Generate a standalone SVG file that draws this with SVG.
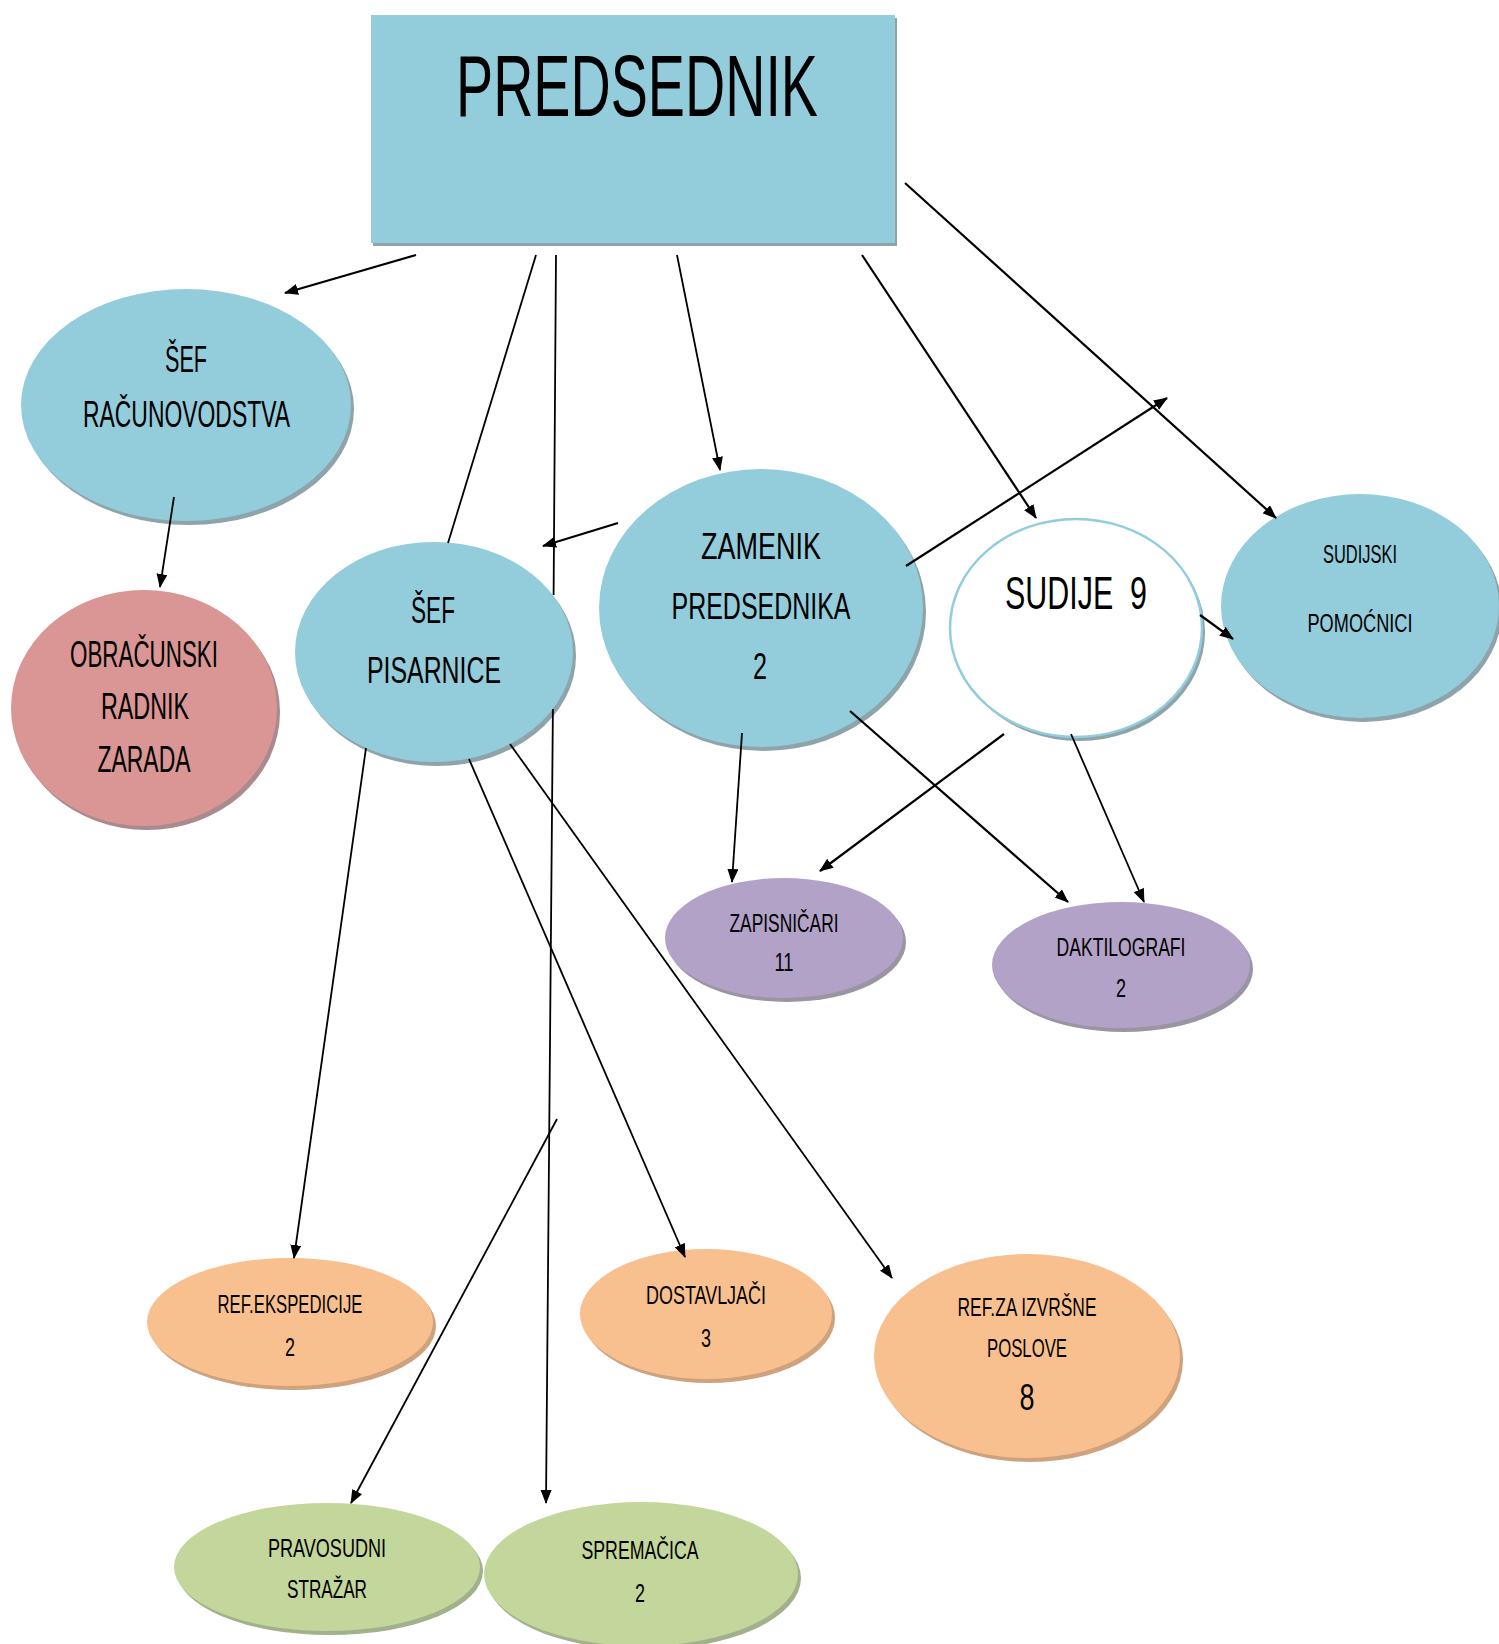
<svg xmlns="http://www.w3.org/2000/svg" width="1499" height="1644" viewBox="0 0 1499 1644">
<style>
text{font-family:"Liberation Sans",Arial,sans-serif;fill:#000;text-anchor:middle}
.big{font-size:37px}
.sm{font-size:25px}
.blue{fill:#93CDDC}
.pink{fill:#D99694}
.purp{fill:#B2A2C7}
.orng{fill:#F9C08F}
.grn{fill:#C3D69B}
.sh{fill:#8EA3AA}
.shp{fill:#A98A8E}
.shv{fill:#9A95A3}
.sho{fill:#CFA27E}
.shg{fill:#A3B08C}
.ln{fill:none;stroke:#000;stroke-width:2.2;marker-end:url(#ah)}
.lt{fill:none;stroke:#000;stroke-width:1.8;marker-end:url(#ah)}
</style>
<defs>
<marker id="ah" markerUnits="userSpaceOnUse" markerWidth="14" markerHeight="12" refX="13" refY="5.5" orient="auto">
<path d="M0,0 L14,5.5 L0,11 z" fill="#000"/>
</marker>
</defs>
<rect width="1499" height="1644" fill="#fff"/>

<g id="predsednik">
<rect x="373" y="18" width="524" height="228" class="sh"/>
<rect x="371" y="15" width="524" height="228" class="blue"/>
<text x="637" y="116" style="font-size:87px" textLength="362" lengthAdjust="spacingAndGlyphs">PREDSEDNIK</text>
</g>

<g id="sef-racunovodstva">
<ellipse cx="189" cy="409" rx="165" ry="116" class="sh"/>
<ellipse cx="186" cy="405" rx="165" ry="116" class="blue"/>
<text class="big" x="186" y="372" textLength="42" lengthAdjust="spacingAndGlyphs">ŠEF</text>
<text class="big" x="186.5" y="427" textLength="207" lengthAdjust="spacingAndGlyphs">RAČUNOVODSTVA</text>
</g>

<g id="obracunski-radnik">
<ellipse cx="147" cy="712" rx="133" ry="118" class="shp"/>
<ellipse cx="144" cy="708" rx="133" ry="118" class="pink"/>
<text class="big" x="144" y="667" textLength="148" lengthAdjust="spacingAndGlyphs">OBRAČUNSKI</text>
<text class="big" x="145" y="719" textLength="88" lengthAdjust="spacingAndGlyphs">RADNIK</text>
<text class="big" x="144" y="772" textLength="93" lengthAdjust="spacingAndGlyphs">ZARADA</text>
</g>

<g id="sef-pisarnice">
<ellipse cx="437" cy="656" rx="139" ry="110" class="sh"/>
<ellipse cx="434" cy="652" rx="139" ry="110" class="blue"/>
<text class="big" x="433" y="623" textLength="44" lengthAdjust="spacingAndGlyphs">ŠEF</text>
<text class="big" x="434" y="683" textLength="134" lengthAdjust="spacingAndGlyphs">PISARNICE</text>
</g>

<g id="zamenik-predsednika">
<ellipse cx="764" cy="612" rx="162" ry="139" class="sh"/>
<ellipse cx="761" cy="608" rx="162" ry="139" class="blue"/>
<text class="big" x="761" y="559" textLength="120" lengthAdjust="spacingAndGlyphs">ZAMENIK</text>
<text class="big" x="761" y="619" textLength="179" lengthAdjust="spacingAndGlyphs">PREDSEDNIKA</text>
<text class="big" x="760" y="679" textLength="14" lengthAdjust="spacingAndGlyphs">2</text>
</g>

<g id="sudije">
<ellipse cx="1079" cy="632" rx="126" ry="109" class="sh"/>
<ellipse cx="1076" cy="628" rx="126" ry="109" fill="#fff" stroke="#93CDDC" stroke-width="2.5"/>
<text x="1005" y="609" style="font-size:46px;text-anchor:start" textLength="142" lengthAdjust="spacingAndGlyphs" xml:space="preserve">SUDIJE  9</text>
</g>

<g id="sudijski-pomocnici">
<ellipse cx="1363" cy="610" rx="139" ry="112" class="sh"/>
<ellipse cx="1360" cy="606" rx="139" ry="112" class="blue"/>
<text class="sm" x="1360" y="563" textLength="74" lengthAdjust="spacingAndGlyphs">SUDIJSKI</text>
<text class="sm" x="1360" y="632" textLength="105" lengthAdjust="spacingAndGlyphs">POMOĆNICI</text>
</g>

<g id="zapisnicari">
<ellipse cx="787" cy="942" rx="119" ry="60" class="shv"/>
<ellipse cx="784" cy="938" rx="119" ry="60" class="purp"/>
<text class="sm" x="784" y="932" textLength="109" lengthAdjust="spacingAndGlyphs">ZAPISNIČARI</text>
<text class="sm" x="784" y="971" textLength="19" lengthAdjust="spacingAndGlyphs">11</text>
</g>

<g id="daktilografi">
<ellipse cx="1124" cy="969" rx="129" ry="63" class="shv"/>
<ellipse cx="1121" cy="965" rx="129" ry="63" class="purp"/>
<text class="sm" x="1121" y="956" textLength="129" lengthAdjust="spacingAndGlyphs">DAKTILOGRAFI</text>
<text class="sm" x="1121" y="997" textLength="10" lengthAdjust="spacingAndGlyphs">2</text>
</g>

<g id="ref-ekspedicije">
<ellipse cx="293" cy="1326" rx="143" ry="64" class="sho"/>
<ellipse cx="290" cy="1322" rx="143" ry="64" class="orng"/>
<text class="sm" x="290" y="1313" textLength="145" lengthAdjust="spacingAndGlyphs">REF.EKSPEDICIJE</text>
<text class="sm" x="290" y="1356" textLength="10" lengthAdjust="spacingAndGlyphs">2</text>
</g>

<g id="dostavljaci">
<ellipse cx="709" cy="1318" rx="126" ry="65" class="sho"/>
<ellipse cx="706" cy="1314" rx="126" ry="65" class="orng"/>
<text class="sm" x="706" y="1304" textLength="120" lengthAdjust="spacingAndGlyphs">DOSTAVLJAČI</text>
<text class="sm" x="706" y="1347" textLength="10" lengthAdjust="spacingAndGlyphs">3</text>
</g>

<g id="ref-izvrsne">
<ellipse cx="1030" cy="1360" rx="153" ry="102" class="sho"/>
<ellipse cx="1027" cy="1356" rx="153" ry="102" class="orng"/>
<text class="sm" x="1027" y="1316" textLength="139" lengthAdjust="spacingAndGlyphs">REF.ZA IZVRŠNE</text>
<text class="sm" x="1027" y="1357" textLength="80" lengthAdjust="spacingAndGlyphs">POSLOVE</text>
<text x="1027" y="1410" style="font-size:37px" textLength="15" lengthAdjust="spacingAndGlyphs">8</text>
</g>

<g id="pravosudni-strazar">
<ellipse cx="330" cy="1571" rx="153" ry="64" class="shg"/>
<ellipse cx="327" cy="1567" rx="153" ry="64" class="grn"/>
<text class="sm" x="327" y="1557" textLength="118" lengthAdjust="spacingAndGlyphs">PRAVOSUDNI</text>
<text class="sm" x="327" y="1598" textLength="80" lengthAdjust="spacingAndGlyphs">STRAŽAR</text>
</g>

<g id="spremacica">
<ellipse cx="644" cy="1578" rx="157" ry="72" class="shg"/>
<ellipse cx="641" cy="1574" rx="157" ry="72" class="grn"/>
<text class="sm" x="640" y="1559" textLength="117" lengthAdjust="spacingAndGlyphs">SPREMAČICA</text>
<text class="sm" x="640" y="1602" textLength="10" lengthAdjust="spacingAndGlyphs">2</text>
</g>

<g id="connectors">
<line class="ln" x1="416" y1="255" x2="285" y2="293"/>
<line x1="536" y1="255" x2="448" y2="543" stroke="#000" stroke-width="1.8"/>
<path class="lt" d="M556,255 L553.6,595 M552.9,709 L546,1503"/>
<line class="lt" x1="677" y1="255" x2="720" y2="470"/>
<line class="ln" x1="862" y1="255" x2="1036" y2="518"/>
<line class="ln" x1="905" y1="183" x2="1276" y2="518"/>
<line class="lt" x1="174" y1="497" x2="160" y2="587"/>
<line class="ln" x1="618" y1="523" x2="543" y2="546"/>
<line class="ln" x1="906" y1="566" x2="1167" y2="398"/>
<line class="ln" x1="1200" y1="615" x2="1233" y2="639"/>
<line class="lt" x1="742" y1="733" x2="732" y2="882"/>
<line class="ln" x1="850" y1="711" x2="1068" y2="902"/>
<line class="ln" x1="1004" y1="734" x2="820" y2="871"/>
<line class="lt" x1="1071" y1="734" x2="1144" y2="902"/>
<line class="lt" x1="366" y1="748" x2="294" y2="1258"/>
<line class="lt" x1="469" y1="759" x2="685" y2="1257"/>
<line class="lt" x1="510" y1="744" x2="892" y2="1278"/>
<line class="lt" x1="557" y1="1119" x2="351" y2="1503"/>
</g>
</svg>
